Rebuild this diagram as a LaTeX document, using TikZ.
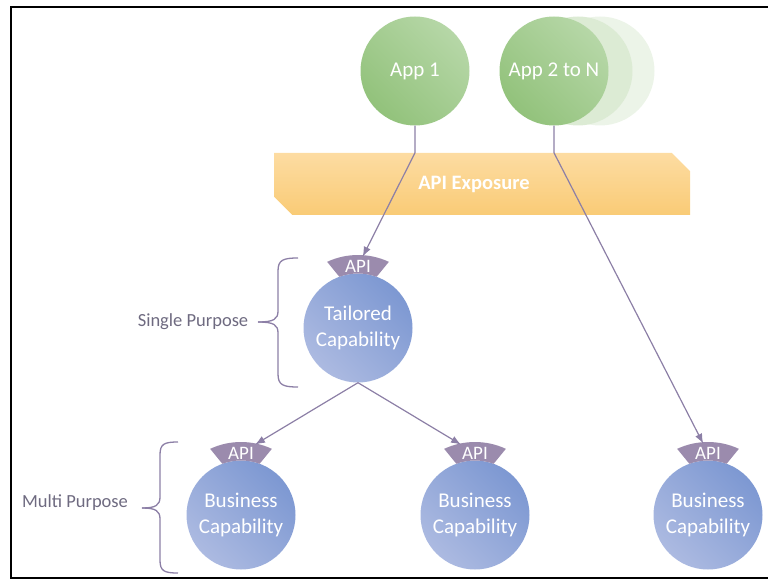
\documentclass[tikz,border=0pt]{standalone}
\usepackage{fontspec}
\setmainfont{Carlito}
\usetikzlibrary{arrows.meta,positioning,shapes.misc,calc}
\definecolor{AppLight}{HTML}{B6D7A7}
\definecolor{AppDark}{HTML}{92C27B}
\definecolor{GhostMid}{HTML}{DCEBD4}
\definecolor{GhostPale}{HTML}{ECF4E8}
\definecolor{CapDark}{HTML}{7D98D2}
\definecolor{CapLight}{HTML}{ACBAE1}
\definecolor{BannerTop}{HTML}{FDDCA2}
\definecolor{BannerBottom}{HTML}{F9CB76}
\definecolor{TagPurple}{HTML}{9B8BAD}
\definecolor{LinkPurple}{HTML}{8C7FA6}
\definecolor{LabelGray}{HTML}{6E6A80}
\newcommand{\apicap}[2]{%
  \fill[TagPurple] ($(#1)+(245:73)$) arc[start angle=245, end angle=295, radius=73]
    -- ($(#1)+(290:54.5)$) arc[start angle=290, end angle=250, radius=54.5] -- cycle;
  \node[apitag] (#2) at ($(#1)+(270:62)$) {API};}

\begin{document}
\begin{tikzpicture}[
  x=1pt, y=-1pt,
  app/.style={circle, minimum size=109pt, inner sep=0pt, top color=AppLight, bottom color=AppDark,
    shading angle=-45, text=white, font=\fontsize{21}{26}\selectfont},
  ghost/.style={circle, minimum size=109pt, inner sep=0pt},
  capab/.style={circle, minimum size=109pt, inner sep=0pt, top color=CapDark, bottom color=CapLight,
    shading angle=-45, text=white, align=center, font=\fontsize{21}{26}\selectfont},
  apitag/.style={inner xsep=1pt, inner ysep=3pt, text=white, font=\fontsize{19}{22}\selectfont},
  banner/.style={chamfered rectangle, chamfered rectangle corners={north east, south west},
    chamfered rectangle xsep=10pt, chamfered rectangle ysep=10pt, minimum width=416pt, minimum height=62pt,
    inner sep=0pt, top color=BannerTop, bottom color=BannerBottom, text=white,
    font=\bfseries\fontsize{20.5}{24}\selectfont},
  link/.style={draw=LinkPurple, line width=1.2pt},
  arrow/.style={link, -{Latex[length=10pt, width=7.5pt]}},
  purpose/.style={text=LabelGray, font=\fontsize{18.5}{22}\selectfont},
  bracket/.style={draw=LinkPurple, line width=1.3pt}
]
\useasboundingbox (0,0) rectangle (768,580);
\draw[line width=2.4pt] (768,7) -- (11,7) -- (11,578) -- (768,578);

\node[banner] (banner) at (482,184) {API Exposure\hspace*{16pt}};

\node[ghost, fill=GhostPale] (ghostb) at (600,71) {};
\node[ghost, fill=GhostMid] (ghosta) at (578,71) {};
\node[app] (app1) at (415,71) {App 1};
\node[app] (app2) at (554,71) {App 2 to N};

\node[capab] (tc) at (358,328) {Tailored\\Capability};
\node[capab] (bc1) at (241,515) {Business\\Capability};
\node[capab] (bc2) at (475,515) {Business\\Capability};
\node[capab] (bc3) at (708,515) {Business\\Capability};

\apicap{tc}{tcapi}
\apicap{bc1}{bc1api}
\apicap{bc2}{bc2api}
\apicap{bc3}{bc3api}

\draw[arrow] (app1) -- (app1 |- banner.north) -- (tcapi);
\draw[arrow] (app2) -- (app2 |- banner.north) -- (bc3api);
\draw[arrow] (tc.south) -- (bc1api);
\draw[arrow] (tc.south) -- (bc2api);

\node[purpose] (single) at (193,322) {Single Purpose};
\node[purpose] (multi) at (75,503) {Multi Purpose};

\draw[bracket] (298,258) .. controls (283,258) and (278,260) .. (278,271) -- (278,311)
  .. controls (278,319) and (274,322) .. (258,322);
\draw[bracket] (298,387) .. controls (283,387) and (278,385) .. (278,374) -- (278,333)
  .. controls (278,325) and (274,322) .. (258,322);
\draw[bracket] (178,442) .. controls (164,442) and (160,444) .. (160,455) -- (160,497)
  .. controls (160,505) and (156,508) .. (142,508);
\draw[bracket] (178,573) .. controls (164,573) and (160,571) .. (160,560) -- (160,519)
  .. controls (160,511) and (156,508) .. (142,508);
\end{tikzpicture}
\end{document}
